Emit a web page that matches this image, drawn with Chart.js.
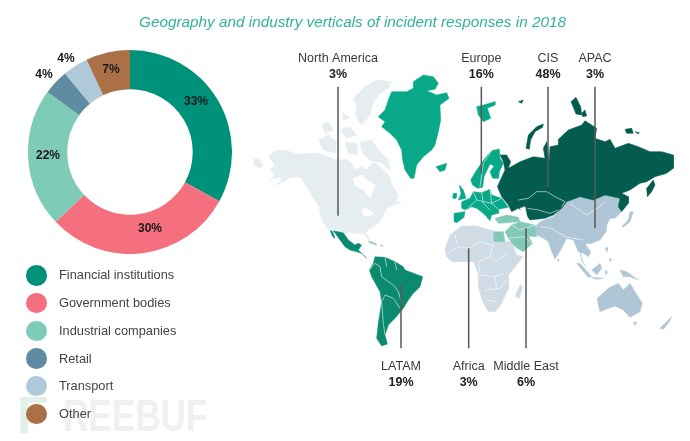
<!DOCTYPE html>
<html>
<head>
<meta charset="utf-8">
<script src="https://cdn.jsdelivr.net/npm/chart.js@4"></script>
<style>
  html, body { margin: 0; padding: 0; background: #fff; }
  body { position: relative; width: 690px; height: 441px; overflow: hidden; font-family: "Liberation Sans", Arial, sans-serif; }
  canvas { position: absolute; }
  #title { position: absolute; left: 0; top: 13px; width: 705px; text-align: center; font-size: 15.3px; font-style: italic; color: #2fb39a; }
  .mark { position: absolute; color: #eff0f2; font-weight: bold; line-height: 1; transform-origin: 0 0; }
  .dot { position: absolute; left: 26px; width: 20.5px; height: 20.5px; border-radius: 50%; }
  .leg { position: absolute; left: 59px; font-size: 12.8px; color: #444; line-height: 16px; }
</style>
</head>
<body>
<div class="mark" style="left:63px;top:393px;font-size:45px;transform:scaleX(0.78)">REEBUF</div>
<div class="mark" style="left:17px;top:389px;font-size:52px;color:#e3efe9">F</div>
<canvas id="map" width="690" height="441" style="left:0;top:0"></canvas>
<canvas id="donut" width="204" height="204" style="left:28px;top:50px"></canvas>
<div id="title">Geography and industry verticals of incident responses in 2018</div>
<div id="legend"></div>
<script>
// donut
const categories = ['Financial institutions', 'Government bodies', 'Industrial companies', 'Retail', 'Transport', 'Other'];
const shares = [33, 30, 22, 4, 4, 7];
const shareColors = ['#00917a', '#f4707f', '#7ecbb8', '#5f8ca3', '#afc9da', '#ab7045'];
const shareLabelOffsets = [[66, -50], [20, 77], [-82, 4], [-86, -77], [-64, -93], [-19, -82]];
const legendRows = [275.3, 303, 331, 358.7, 386, 414];

// regions
const regionNames = ['North America', 'Europe', 'CIS', 'APAC', 'LATAM', 'Africa', 'Middle East'];
const regionShares = ['3%', '16%', '48%', '3%', '19%', '3%', '6%'];

// map outlines (x and y in map units, 3 per pixel)
const northAmerica = [
  [[60,345],[80,330],[105,330],[140,342],[175,340],[205,340],[235,352],[262,360],[290,358],[305,370],[312,390],[335,380],[350,390],[370,365],[395,385],[415,405],[430,440],[445,465],[440,482],[455,490],[430,495],[410,505],[395,535],[385,550],[360,565],[345,580],[358,590],[355,602],[345,585],[340,580],[315,580],[300,575],[285,580],[265,568],[235,568],[215,540],[207,500],[190,475],[170,440],[150,410],[120,412],[100,425],[75,438],[95,420],[85,410],[60,420],[75,405],[60,390],[75,375],[58,355]],
  [[310,175],[345,140],[380,120],[425,125],[415,145],[385,165],[370,190],[360,225],[335,255],[315,225],[320,195]],
  [[330,305],[365,300],[385,330],[415,360],[420,390],[395,370],[360,360],[335,335]],
  [[215,255],[235,245],[250,270],[225,280]],
  [[205,300],[235,285],[260,305],[255,340],[220,330]],
  [[270,270],[300,260],[320,285],[290,295]],
  [[285,305],[320,310],[325,345],[295,340]],
  [[275,215],[300,235],[280,240]],
  [[12,358],[25,355],[40,375],[30,385],[15,375]]
];
const northAmericaWater = [
  [[310,415],[335,405],[350,420],[375,435],[360,475],[340,450],[315,435]],
  [[335,510],[350,505],[370,520],[355,530],[340,525]]
];
const latam = [
  [[250,572],[280,578],[295,600],[315,615],[325,610],[335,615],[325,630],[350,655],[335,640],[320,635],[300,630],[285,620],[270,600]],
  [[240,570],[248,575],[255,595],[248,590]],
  [[375,650],[405,652],[435,665],[460,680],[465,690],[518,710],[510,740],[488,762],[475,780],[460,805],[435,835],[415,855],[405,885],[412,912],[395,918],[380,895],[385,850],[395,785],[390,755],[365,710],[358,690],[370,670]]
];
const caribbean = [
  [[355,602],[380,612],[378,615],[358,608]],
  [[390,615],[398,618],[396,620]]
];
const greenland = [[490,125],[520,105],[550,110],[565,130],[555,148],[530,152],[560,165],[590,158],[597,175],[570,195],[572,240],[565,275],[555,315],[545,330],[520,350],[500,375],[492,415],[482,415],[465,390],[458,360],[455,330],[440,300],[420,280],[395,260],[405,245],[385,230],[405,210],[415,180],[425,155],[470,155],[490,145]];
const europe = [
  [[612,520],[645,515],[642,532],[620,548],[612,545]],
  [[635,485],[660,475],[670,455],[695,458],[720,448],[725,465],[755,475],[775,502],[745,508],[745,520],[725,525],[720,542],[700,520],[680,505],[665,500],[648,510],[635,505]],
  [[628,435],[640,450],[648,475],[625,480],[633,462]],
  [[610,460],[620,460],[618,475],[608,475]],
  [[662,420],[680,390],[705,355],[725,332],[748,327],[750,355],[760,370],[748,395],[746,415],[728,415],[720,395],[732,378],[720,372],[702,410],[698,442],[682,445],[668,435]],
  [[558,380],[590,370],[585,390],[570,395]],
  [[680,200],[700,195],[735,185],[735,195],[712,205],[722,235],[700,245],[685,225]]
];
const cis = [
  [[742,440],[765,390],[760,365],[750,345],[770,345],[782,365],[775,385],[810,365],[850,350],[885,355],[880,325],[890,305],[897,365],[900,320],[925,315],[925,298],[955,270],[995,255],[1005,242],[1025,255],[1040,265],[1035,295],[1065,305],[1080,298],[1095,325],[1135,310],[1165,320],[1200,335],[1235,335],[1270,345],[1270,385],[1250,400],[1215,410],[1190,425],[1170,430],[1140,450],[1115,460],[1135,470],[1135,490],[1115,515],[1105,500],[1110,475],[1065,465],[1030,480],[990,470],[950,485],[935,505],[910,525],[885,535],[840,540],[825,520],[805,505],[785,515],[775,495],[755,470]],
  [[828,325],[835,285],[860,260],[880,252],[878,262],[855,275],[842,300],[838,328]],
  [[963,185],[978,172],[992,200],[995,225],[978,222]],
  [[995,220],[1005,210],[1010,228],[998,230]],
  [[1125,268],[1145,265],[1150,280],[1130,280]],
  [[1155,275],[1168,278],[1165,282]],
  [[1192,470],[1190,445],[1210,420],[1215,435],[1205,455]],
  [[805,185],[820,180],[815,190]]
];
const caspian = [[810,505],[825,500],[832,535],[820,535]];
const middleEast = [
  [[735,535],[770,525],[805,532],[810,545],[770,548],[745,550]],
  [[765,575],[785,555],[810,545],[855,555],[860,590],[835,588],[848,610],[820,635],[795,620],[775,595]],
  [[730,575],[760,575],[765,605],[732,605]]
];
const apac = [
  [[855,560],[870,545],[910,530],[950,485],[990,470],[1030,480],[1065,465],[1110,475],[1105,500],[1115,515],[1095,535],[1080,535],[1070,555],[1068,575],[1050,600],[1025,610],[1005,612],[1022,635],[1015,650],[1000,640],[985,635],[970,600],[950,595],[935,625],[915,657],[905,635],[895,605],[880,595],[860,585]],
  [[990,635],[997,665],[1008,680],[1000,670]],
  [[980,670],[990,670],[1025,710],[1015,712]],
  [[1025,712],[1060,715],[1040,718]],
  [[1025,690],[1050,670],[1055,685],[1040,705]],
  [[1065,690],[1072,695],[1068,705]],
  [[1065,625],[1072,622],[1072,635]],
  [[1078,655],[1085,658],[1080,665]],
  [[1110,690],[1130,695],[1165,720],[1140,710],[1120,710]],
  [[1115,560],[1135,540],[1140,515],[1150,515],[1140,545],[1120,562]],
  [[922,657],[928,660],[925,665]],
  [[1042,775],[1075,745],[1105,730],[1120,750],[1140,730],[1155,755],[1177,790],[1170,815],[1140,832],[1120,810],[1095,798],[1050,815],[1045,795]],
  [[1150,847],[1160,847],[1155,857]],
  [[1230,865],[1250,845],[1265,830],[1258,845],[1240,868]]
];
const africa = [
  [[585,625],[600,585],[635,558],[680,558],[730,572],[730,605],[785,605],[800,645],[820,650],[795,680],[775,705],[775,745],[755,790],[735,815],[715,815],[700,790],[685,740],[685,700],[670,665],[640,665],[605,665],[590,650]],
  [[795,770],[810,735],[818,740],[808,775]]
];

// internal borders
const borders = [
  [[375,670],[390,680],[395,710],[415,725],[430,735],[445,755],[455,790]],
  [[395,785],[405,765],[430,775],[450,805]],
  [[395,785],[400,850],[405,885]], [[358,690],[375,670]], [[405,652],[410,680]], [[435,665],[440,690]],
  [[670,455],[680,480],[648,510]], [[695,458],[700,490],[720,510]], [[720,448],[725,490],[755,475]], [[680,480],[725,490]], [[725,490],[745,508]],
  [[725,332],[700,370],[690,440]],
  [[805,480],[835,475],[860,455],[890,455],[915,470],[945,485],[935,500]], [[832,505],[865,510],[900,520],[925,510]],
  [[960,490],[1010,525],[1050,500],[1065,485]], [[870,560],[905,565],[945,590],[1000,600]],
  [[615,585],[625,620],[592,640]], [[625,620],[660,625],[685,605],[730,615]], [[685,665],[720,650],[740,665],[770,640]],
  [[730,615],[720,650]], [[685,665],[690,705],[735,710],[760,700]], [[702,750],[750,745],[770,720]],
  [[735,710],[740,745]], [[710,780],[740,785]],
  [[775,595],[820,590],[848,610]], [[785,555],[810,570],[855,555]]
];

// leader lines: x, top, bottom
const leaders = [[264,140,527], [694,140,400], [894,140,440], [1035,140,565], [453,735,925], [656,625,925], [828,565,925]];
const labelRows = [[57,105], [57,105], [57,105], [57,105], [980,1028], [980,1028], [980,1028]];

const polygon = (pts, color) => ({
  data: [...pts, pts[0]].map(p => ({ x: p[0], y: p[1] })),
  showLine: true, fill: 'shape', backgroundColor: color, borderColor: color, borderWidth: 0.5, pointRadius: 0, tension: 0
});
const polyline = (pts, color, width) => ({
  data: pts.map(p => ({ x: p[0], y: p[1] })),
  showLine: true, fill: false, borderColor: color, borderWidth: width, pointRadius: 0, tension: 0
});

// first dataset is painted last
const mapDatasets = [
  ...leaders.map(l => polyline([[l[0], l[1]], [l[0], l[2]]], '#585858', 1.5)),
  ...borders.map(b => polyline(b, 'rgba(255,255,255,0.7)', 0.8)),
  polygon(caspian, '#fff'),
  ...northAmericaWater.map(p => polygon(p, '#fff')),
  ...northAmerica.map(p => polygon(p, '#e6edf1')),
  ...latam.map(p => polygon(p, '#0b8a70')),
  ...caribbean.map(p => polygon(p, '#8dcbbd')),
  polygon(greenland, '#09a888'),
  ...europe.map(p => polygon(p, '#09a888')),
  ...cis.map(p => polygon(p, '#035c4d')),
  ...middleEast.map(p => polygon(p, '#82c9b7')),
  ...apac.map(p => polygon(p, '#afc6d6')),
  ...africa.map(p => polygon(p, '#cfdce6'))
];

const regionLabels = {
  id: 'regionLabels',
  afterDraw(chart) {
    const { ctx, scales } = chart;
    ctx.save();
    ctx.textAlign = 'center';
    ctx.textBaseline = 'middle';
    regionNames.forEach((name, i) => {
      const x = scales.x.getPixelForValue(leaders[i][0]);
      ctx.fillStyle = '#3a3a3a';
      ctx.font = '12.5px "Liberation Sans"';
      ctx.fillText(name, x, scales.y.getPixelForValue(labelRows[i][0]));
      ctx.fillStyle = '#222';
      ctx.font = 'bold 12.5px "Liberation Sans"';
      ctx.fillText(regionShares[i], x, scales.y.getPixelForValue(labelRows[i][1]));
    });
    ctx.restore();
  }
};

new Chart(document.getElementById('map'), {
  type: 'scatter',
  data: { datasets: mapDatasets },
  plugins: [regionLabels],
  options: {
    responsive: false,
    animation: false,
    layout: { padding: 0 },
    plugins: { legend: { display: false }, tooltip: { enabled: false } },
    scales: {
      x: { type: 'linear', display: false, min: -750, max: 1320 },
      y: { type: 'linear', display: false, min: -120, max: 1203, reverse: true }
    }
  }
});

const shareLabels = {
  id: 'shareLabels',
  afterDraw(chart) {
    const { ctx } = chart;
    const arc = chart.getDatasetMeta(0).data[0];
    ctx.save();
    ctx.font = 'bold 12px "Liberation Sans"';
    ctx.fillStyle = '#1a1a1a';
    ctx.textAlign = 'center';
    ctx.textBaseline = 'middle';
    shares.forEach((v, i) => {
      ctx.fillText(v + '%', arc.x + shareLabelOffsets[i][0], arc.y + shareLabelOffsets[i][1]);
    });
    ctx.restore();
  }
};

new Chart(document.getElementById('donut'), {
  type: 'doughnut',
  data: {
    labels: categories,
    datasets: [{ data: shares, backgroundColor: shareColors, borderWidth: 0 }]
  },
  plugins: [shareLabels],
  options: {
    responsive: false,
    animation: false,
    cutout: '61.5%',
    layout: { padding: 0 },
    plugins: { legend: { display: false }, tooltip: { enabled: false } }
  }
});

document.getElementById('legend').innerHTML = categories.map((c, i) =>
  `<div class="dot" style="top:${legendRows[i] - 10.25}px;background:${shareColors[i]}"></div>` +
  `<div class="leg" style="top:${legendRows[i] - 8}px">${c}</div>`
).join('');
</script>
</body>
</html>
